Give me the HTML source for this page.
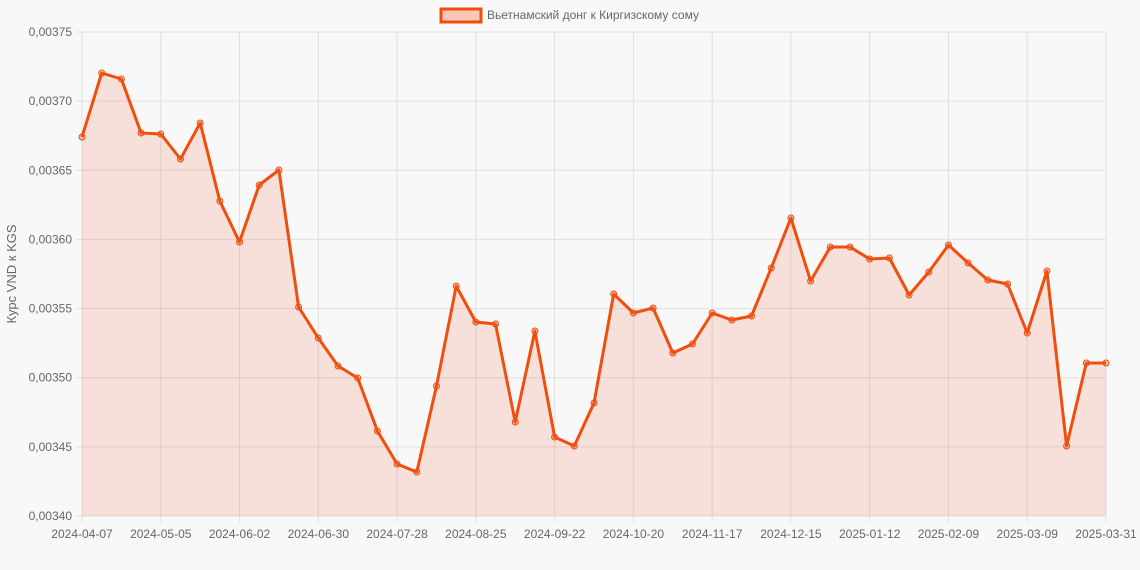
<!DOCTYPE html>
<html><head><meta charset="utf-8"><style>
html,body{margin:0;padding:0;background:#f8f8f8;}
svg{display:block;font-family:"Liberation Sans",sans-serif;}
</style></head><body>
<svg width="1140" height="570" xmlns="http://www.w3.org/2000/svg">
<rect width="1140" height="570" fill="#f8f8f8"/>
<g id="grid" stroke="#e0e0e0" stroke-width="1"></g>
<path id="area" fill="rgba(240,90,40,0.15)" stroke="none"/>
<path id="line" fill="none" stroke="#f04e0e" stroke-width="3" stroke-linejoin="round"/>
<g id="pts"></g>
<g id="lbl" font-size="12" fill="#666"></g>
<rect x="441" y="9" width="40" height="13" fill="rgba(240,90,40,0.3)" stroke="#f04e0e" stroke-width="3"/>
<text x="487" y="19" font-size="12" fill="#666">Вьетнамский донг к Киргизскому сому</text>
<text transform="translate(16,274) rotate(-90)" text-anchor="middle" font-size="13" fill="#666">Курс VND к KGS</text>
</svg>
<script>
(function(){
const ys=[137,73,79,133,134,159,123,201,242,185,170,307,338,366,378,431,464,472,386,286,322,324,422,331,437,446,403,294,313,308,353,344,313,320,316,268,218,281,247,247,259,258,295,272,245,263,280,284,333,271,446,363,363];
const x0=82,x1=1106,dx=(x1-x0)/52,yTop=32,yBot=516;
const ns="http://www.w3.org/2000/svg";
const g=document.getElementById('grid'),L=document.getElementById('lbl'),P=document.getElementById('pts');
function el(t,a,p,txt){const e=document.createElementNS(ns,t);for(const k in a)e.setAttribute(k,a[k]);if(txt)e.textContent=txt;p.appendChild(e);return e;}
const yl=["0,00375","0,00370","0,00365","0,00360","0,00355","0,00350","0,00345","0,00340"];
for(let i=0;i<8;i++){const y=yTop+i*(yBot-yTop)/7;el('line',{x1:x0-6,x2:x1,y1:y,y2:y},g);el('text',{x:72,y:y+4,'text-anchor':'end'},L,yl[i]);}
const xl=["2024-04-07","2024-05-05","2024-06-02","2024-06-30","2024-07-28","2024-08-25","2024-09-22","2024-10-20","2024-11-17","2024-12-15","2025-01-12","2025-02-09","2025-03-09","2025-03-31"];
xl.forEach((t,i)=>{const idx=i<13?i*4:52;const x=x0+idx*dx;el('line',{x1:x,x2:x,y1:yTop,y2:yBot+6},g);el('text',{x:x,y:538,'text-anchor':'middle'},L,t);});
let d="";ys.forEach((y,i)=>{d+=(i?"L":"M")+(x0+i*dx).toFixed(1)+","+y;});
document.getElementById('line').setAttribute('d',d);
document.getElementById('area').setAttribute('d',d+"L"+x1+","+yBot+"L"+x0+","+yBot+"Z");
ys.forEach((y,i)=>el('circle',{cx:x0+i*dx,cy:y,r:3,fill:'rgba(240,90,40,0.3)',stroke:'#f04e0e','stroke-width':1},P));
})();
</script>
</body></html>
